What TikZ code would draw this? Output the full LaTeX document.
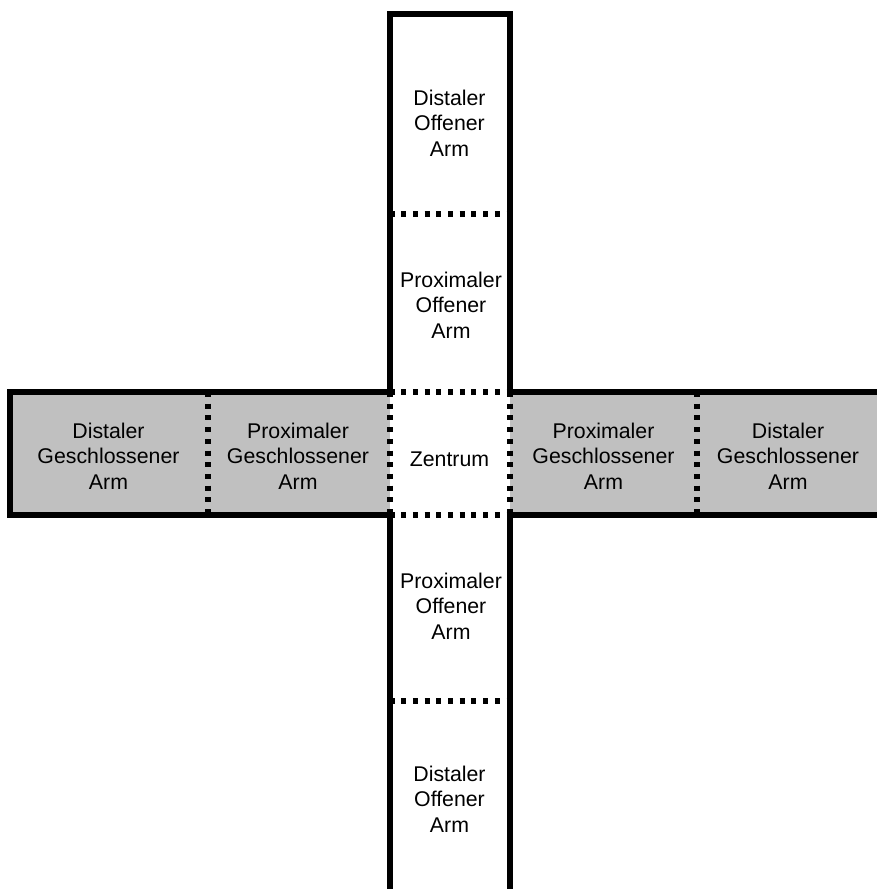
\documentclass[tikz,border=0pt]{standalone}
\usepackage{fontspec}
\setmainfont{Liberation Sans}
\definecolor{armgray}{RGB}{192,192,192}
\tikzset{
  wall/.style={line width=6pt, line join=miter, line cap=butt},
  sep/.style={line width=6pt, dash pattern=on 5pt off 6.7pt, line cap=butt},
  lbl/.style={align=center, inner sep=0pt, font=\fontsize{21.3}{25.6}\selectfont}
}
\begin{document}
\begin{tikzpicture}[x=1pt, y=-1pt]
\useasboundingbox (0,0) rectangle (877,889);
\clip (0,0) rectangle (877,889);
% grey closed arms
\fill[armgray] (10,392) rectangle (389.5,515);
\fill[armgray] (510,392) rectangle (900,515);
% coordinates
\coordinate (tl) at (389.5,14);
\coordinate (tr) at (510,14);
\coordinate (cl) at (389.5,392);
\coordinate (cr) at (510,392);
\coordinate (bl) at (389.5,515);
\coordinate (br) at (510,515);
\coordinate (el1) at (10,392);
\coordinate (el2) at (10,515);
\coordinate (er1) at (900,392);
\coordinate (er2) at (900,515);
\coordinate (vb1) at (389.5,900);
\coordinate (vb2) at (510,900);
% solid walls
\draw[wall] (cl) -- (tl) -- (tr) -- (cr);
\draw[wall] (cl) -- (el1) -- (el2) -- (bl);
\draw[wall] (cr) -- (er1);
\draw[wall] (br) -- (er2);
\draw[wall] (bl) -- (vb1);
\draw[wall] (br) -- (vb2);
% dotted separators
\coordinate (s1l) at (389.5,214);
\coordinate (s1r) at (510,214);
\coordinate (s2l) at (389.5,701);
\coordinate (s2r) at (510,701);
\coordinate (s3t) at (207.5,392);
\coordinate (s3b) at (207.5,515);
\coordinate (s4t) at (697,392);
\coordinate (s4b) at (697,515);
\draw[sep] (s1l) -- (s1r);
\draw[sep] (s2l) -- (s2r);
\draw[sep] (s3t) -- (s3b);
\draw[sep] (s4t) -- (s4b);
\draw[sep] (cl) -- (cr);
\draw[sep] (bl) -- (br);
\draw[sep] (cl) -- (bl);
\draw[sep] (cr) -- (br);
% labels
\node[lbl] (tdist) at (449.5,123) {Distaler\\Offener\\Arm};
\node[lbl] (tprox) at (451,305) {Proximaler\\Offener\\Arm};
\node[lbl] (zent) at (449.5,459) {Zentrum};
\node[lbl] (bprox) at (451,606) {Proximaler\\Offener\\Arm};
\node[lbl] (bdist) at (449.5,799) {Distaler\\Offener\\Arm};
\node[lbl] (ldist) at (108.5,456) {Distaler\\Geschlossener\\Arm};
\node[lbl] (lprox) at (298,456) {Proximaler\\Geschlossener\\Arm};
\node[lbl] (rprox) at (603.5,456) {Proximaler\\Geschlossener\\Arm};
\node[lbl] (rdist) at (788,456) {Distaler\\Geschlossener\\Arm};
\end{tikzpicture}
\end{document}
